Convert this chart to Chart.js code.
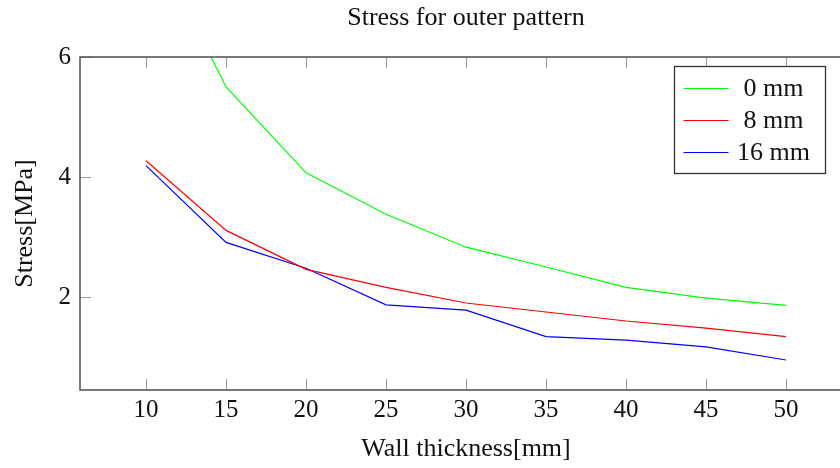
<!DOCTYPE html>
<html>
<head>
<meta charset="utf-8">
<script src="https://cdn.jsdelivr.net/npm/chart.js@4"></script>
<style>
  html, body { margin: 0; padding: 0; background: #fff; overflow: hidden; }
  #wrap { width: 880px; height: 468px; position: relative; }
</style>
</head>
<body>
<div id="wrap"><canvas id="myChart"></canvas></div>
<script>
const thickness = [10, 15, 20, 25, 30, 35, 40, 45, 50];
const stress0 = [8.15, 5.5, 4.07, 3.38, 2.83, 2.5, 2.16, 1.98, 1.86];
const stress8 = [4.27, 3.11, 2.46, 2.16, 1.9, 1.75, 1.6, 1.48, 1.34];
const stress16 = [4.19, 2.91, 2.48, 1.87, 1.78, 1.34, 1.28, 1.17, 0.95];
const xTicks = [10, 15, 20, 25, 30, 35, 40, 45, 50];
const yTicks = [2, 4, 6];
const labels = ['0 mm', '8 mm', '16 mm'];

const font = 'Liberation Serif, Times New Roman, serif';

function points(values) {
    return thickness.map((t, i) => ({ x: t, y: values[i] }));
}

// pgfplots style: frame round the plot and ticks pointing inward on all sides
const framePlugin = {
    id: 'frame',
    afterDatasetsDraw(chart) {
        const { ctx, chartArea: a, scales } = chart;
        ctx.save();
        ctx.strokeStyle = '#9a9a9a';
        ctx.lineWidth = 1;
        const len = 11;
        xTicks.forEach(v => {
            const px = Math.round(scales.x.getPixelForValue(v)) + 0.5;
            ctx.beginPath();
            ctx.moveTo(px, a.bottom); ctx.lineTo(px, a.bottom - len);
            ctx.moveTo(px, a.top); ctx.lineTo(px, a.top + len);
            ctx.stroke();
        });
        yTicks.forEach(v => {
            const py = Math.round(scales.y.getPixelForValue(v)) + 0.5;
            ctx.beginPath();
            ctx.moveTo(a.left, py); ctx.lineTo(a.left + len, py);
            ctx.moveTo(a.right, py); ctx.lineTo(a.right - len, py);
            ctx.stroke();
        });
        ctx.strokeStyle = '#4d4d4d';
        ctx.lineWidth = 1.5;
        ctx.strokeRect(a.left, a.top, a.right - a.left, a.bottom - a.top);
        ctx.restore();
    }
};

// legend box inside the plot, top right
const legendPlugin = {
    id: 'boxLegend',
    afterDraw(chart) {
        const { ctx, chartArea: a } = chart;
        const x0 = a.right - 177.5, y0 = a.top + 9.5, w = 151, h = 107;
        ctx.save();
        ctx.fillStyle = '#fff';
        ctx.fillRect(x0, y0, w, h);
        ctx.strokeStyle = '#333';
        ctx.lineWidth = 1.3;
        ctx.strokeRect(x0, y0, w, h);
        ctx.font = '26px ' + font;
        ctx.textAlign = 'center';
        ctx.textBaseline = 'middle';
        chart.data.datasets.forEach((ds, i) => {
            const y = y0 + 22 + i * 32;
            ctx.strokeStyle = ds.borderColor;
            ctx.lineWidth = 1.2;
            ctx.beginPath();
            ctx.moveTo(x0 + 9, y); ctx.lineTo(x0 + 54, y);
            ctx.stroke();
            ctx.fillStyle = '#111';
            ctx.fillText(ds.label, x0 + 99, y + 1);
        });
        ctx.restore();
    }
};

const ctx = document.getElementById('myChart').getContext('2d');

const chart = new Chart(ctx, {
    type: 'line',
    data: {
        datasets: [
            { label: labels[0], data: points(stress0), borderColor: '#00ff00' },
            { label: labels[1], data: points(stress8), borderColor: '#ff0000' },
            { label: labels[2], data: points(stress16), borderColor: '#0000ff' },
        ],
    },
    options: {
        responsive: true,
        maintainAspectRatio: false,
        animation: false,
        layout: { padding: { left: 0, right: 28, top: 0, bottom: 0 } },
        elements: {
            line: { borderWidth: 1.2, tension: 0 },
            point: { radius: 0 },
        },
        plugins: {
            legend: { display: false },
            title: { display: false },
            tooltip: { enabled: false },
        },
        scales: {
            x: {
                type: 'linear',
                min: 5.875,
                max: 54.125,
                afterBuildTicks: s => { s.ticks = xTicks.map(v => ({ value: v })); },
                afterFit: s => { s.height = 78; },
                grid: { display: false },
                border: { display: false },
                ticks: { color: '#111', font: { family: font, size: 25 }, padding: -3, maxRotation: 0 },
                title: {
                    display: true,
                    text: 'Wall thickness[mm]',
                    color: '#111',
                    font: { family: font, size: 26 },
                    padding: { top: 0, bottom: 3 },
                },
            },
            top: {
                type: 'linear',
                position: 'top',
                min: 5.875,
                max: 54.125,
                afterFit: s => { s.height = 57; },
                grid: { display: false },
                border: { display: false },
                ticks: { display: false },
                title: {
                    display: true,
                    text: 'Stress for outer pattern',
                    color: '#111',
                    font: { family: font, size: 26 },
                    padding: { top: 3, bottom: 0 },
                },
            },
            y: {
                min: 0.45,
                max: 6,
                afterBuildTicks: s => { s.ticks = yTicks.map(v => ({ value: v })); },
                afterFit: s => { s.width = 80; },
                grid: { display: false },
                border: { display: false },
                ticks: { color: '#111', font: { family: font, size: 25 }, padding: 1 },
                title: {
                    display: true,
                    text: 'Stress[MPa]',
                    color: '#111',
                    font: { family: font, size: 26 },
                    padding: { top: 10, bottom: 0 },
                },
            },
        },
    },
    plugins: [framePlugin, legendPlugin],
});
</script>
</body>
</html>
